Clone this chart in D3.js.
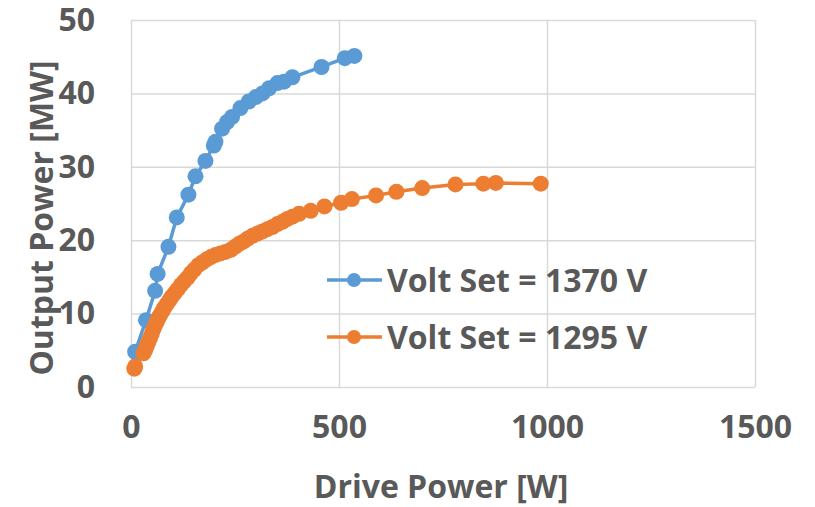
<!DOCTYPE html>
<html>
<head>
<meta charset="utf-8">
<script src="https://cdn.jsdelivr.net/npm/d3@7"></script>
<style>
  body { margin: 0; background: #fff; }
  text { font-family: "Open Sans", sans-serif; font-weight: bold; fill: #595959; }
</style>
</head>
<body>
<svg id="chart" width="815" height="507"></svg>
<script>
// drive power [W], output power [MW]
const blueX = [10, 36, 58, 64, 90, 110, 138, 155, 179, 199, 203, 219, 231, 243, 263, 283, 300, 316, 332, 352, 368, 388, 458, 514, 537];
const blueY = [4.8, 9.1, 13.1, 15.4, 19.1, 23.1, 26.2, 28.7, 30.8, 32.9, 33.4, 35.2, 36.1, 36.8, 38.0, 38.9, 39.5, 40.0, 40.7, 41.4, 41.6, 42.2, 43.6, 44.8, 45.1];

const orangeX = [8, 10, 30, 34, 38, 42, 46, 50, 54, 58, 62, 66, 70, 75, 80, 86, 92, 98, 105, 112, 120, 128, 136, 144, 152, 162, 172, 182, 192, 203, 215, 227, 240, 250, 260, 270, 280, 292, 304, 316, 328, 340, 352, 364, 376, 388, 404, 432, 465, 505, 531, 589, 638, 700, 780, 847, 877, 985];
const orangeY = [2.5, 2.8, 4.6, 5.0, 5.6, 6.2, 6.7, 7.3, 7.9, 8.4, 8.9, 9.4, 9.8, 10.3, 10.8, 11.3, 11.8, 12.3, 12.8, 13.3, 13.9, 14.4, 14.9, 15.5, 16.0, 16.6, 17.0, 17.4, 17.7, 18.0, 18.2, 18.4, 18.7, 19.1, 19.5, 19.8, 20.2, 20.6, 20.9, 21.2, 21.5, 21.8, 22.2, 22.5, 22.9, 23.2, 23.6, 24.0, 24.6, 25.1, 25.6, 26.1, 26.6, 27.1, 27.6, 27.7, 27.8, 27.7];

const xTicks = [0, 500, 1000, 1500];
const yTicks = [0, 10, 20, 30, 40, 50];
const seriesNames = ["Volt Set = 1370 V", "Volt Set = 1295 V"];
const colors = ["#5B9BD5", "#ED7D31"];

const margin = {top: 20, right: 60, bottom: 120, left: 131};
const width = 815 - margin.left - margin.right;
const height = 507 - margin.top - margin.bottom;

const svg = d3.select("#chart");
const g = svg.append("g").attr("transform", `translate(${margin.left},${margin.top})`);

const x = d3.scaleLinear().domain([0, 1500]).range([0, width]);
const y = d3.scaleLinear().domain([0, 50]).range([height, 0]);

// gridlines
g.append("g")
  .call(d3.axisLeft(y).tickValues(yTicks).tickSize(-width).tickFormat(""))
  .call(a => a.select(".domain").remove())
  .call(a => a.selectAll("line").attr("stroke", "#d9d9d9").attr("stroke-width", 1.5));
g.append("g")
  .attr("transform", `translate(0,${height})`)
  .call(d3.axisBottom(x).tickValues(xTicks).tickSize(-height).tickFormat(""))
  .call(a => a.select(".domain").remove())
  .call(a => a.selectAll("line").attr("stroke", "#d9d9d9").attr("stroke-width", 1.5));

// tick labels
g.append("g")
  .attr("transform", "translate(-36,0)")
  .call(d3.axisLeft(y).tickValues(yTicks).tickSize(0).tickPadding(0).tickFormat(d3.format("d")))
  .call(a => a.select(".domain").remove())
  .call(a => a.selectAll("text").attr("font-size", 32).attr("fill", "#595959")
    .style("font-family", "'Open Sans', sans-serif").style("font-weight", "bold"));
g.append("g")
  .attr("transform", `translate(0,${height + 28})`)
  .call(d3.axisBottom(x).tickValues(xTicks).tickSize(0).tickPadding(0).tickFormat(d3.format("d")))
  .call(a => a.select(".domain").remove())
  .call(a => a.selectAll("text").attr("font-size", 32).attr("fill", "#595959")
    .style("font-family", "'Open Sans', sans-serif").style("font-weight", "bold"));

// axis titles
svg.append("text")
  .attr("x", 441).attr("y", 498)
  .attr("text-anchor", "middle").attr("font-size", 32)
  .text("Drive Power [W]");
svg.append("text")
  .attr("transform", "translate(53,218) rotate(-90)")
  .attr("text-anchor", "middle").attr("font-size", 32)
  .text("Output Power [MW]");

// series
const series = [
  blueX.map((v, i) => ({x: v, y: blueY[i]})),
  orangeX.map((v, i) => ({x: v, y: orangeY[i]}))
];
const line = d3.line().x(d => x(d.x)).y(d => y(d.y));

series.forEach((data, k) => {
  g.append("path").datum(data)
    .attr("fill", "none").attr("stroke", colors[k]).attr("stroke-width", 3.5)
    .attr("d", line);
  g.selectAll(".dot" + k).data(data).enter().append("circle")
    .attr("class", "dot" + k)
    .attr("cx", d => x(d.x)).attr("cy", d => y(d.y))
    .attr("r", 8).attr("fill", colors[k]);
});

// legend
const legend = svg.append("g").attr("transform", "translate(327,280)");
seriesNames.forEach((name, k) => {
  const row = legend.append("g").attr("transform", `translate(0,${k * 57})`);
  row.append("line").attr("x1", 0).attr("x2", 55).attr("y1", 0).attr("y2", 0)
    .attr("stroke", colors[k]).attr("stroke-width", 3.5);
  row.append("circle").attr("cx", 27).attr("cy", 0).attr("r", 7).attr("fill", colors[k]);
  row.append("text").attr("x", 60).attr("y", 12).attr("font-size", 32).text(name);
});
</script>
</body>
</html>
